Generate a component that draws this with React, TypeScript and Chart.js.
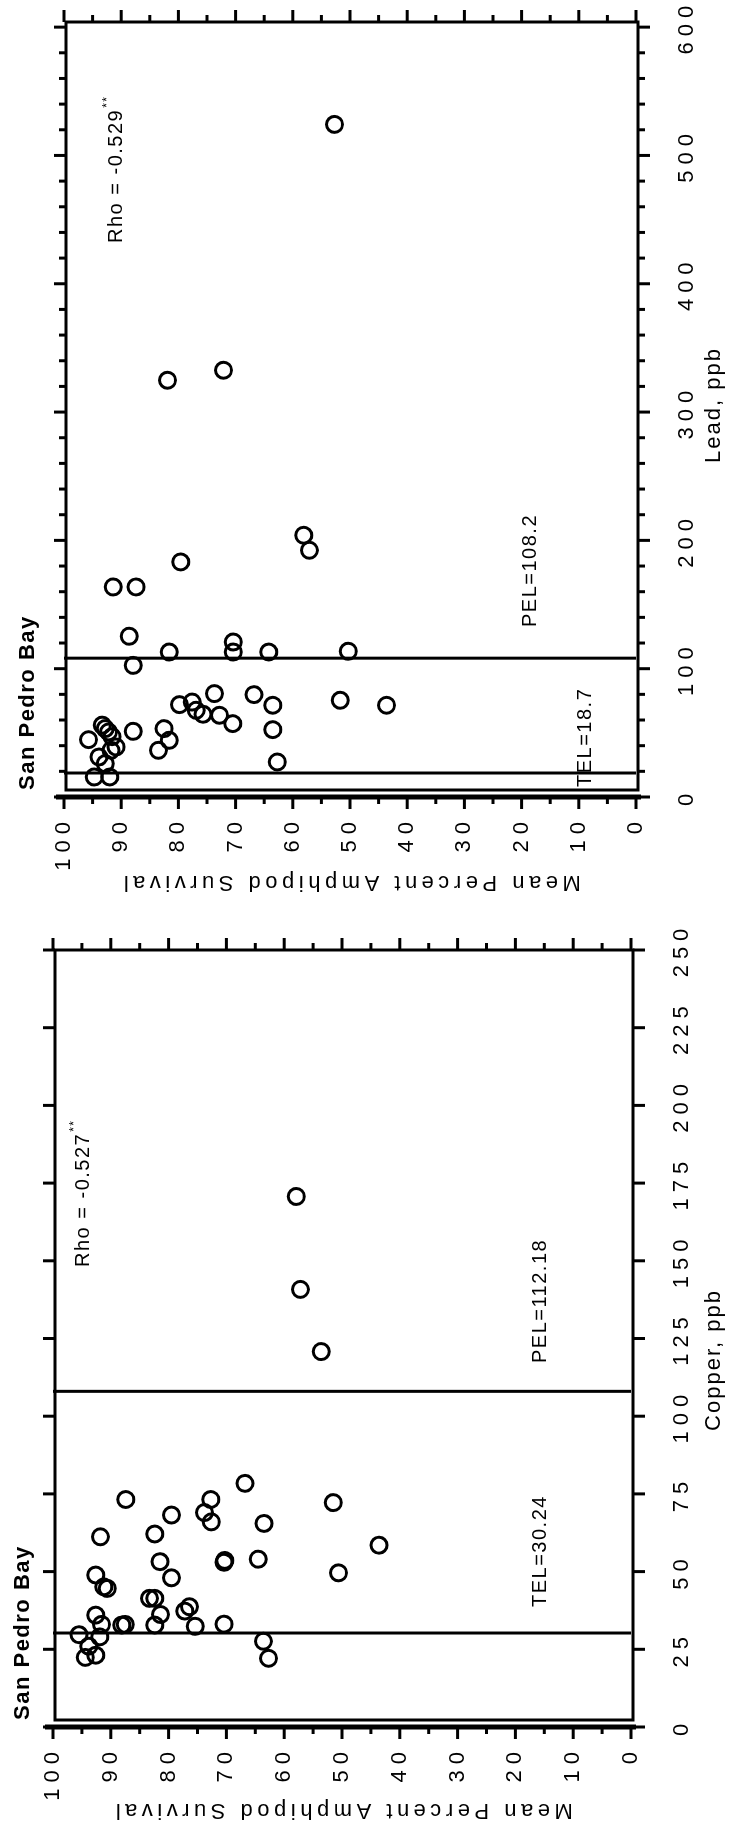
import React, { useEffect, useRef } from 'react';
import { Chart, registerables } from 'chart.js';

Chart.register(...registerables);

const FONT = '"Liberation Sans", Arial, Helvetica, sans-serif';

// ---- data ----
const survivalTicks = [0, 10, 20, 30, 40, 50, 60, 70, 80, 90, 100];
const survivalMinorTicks = [0, 5, 10, 15, 20, 25, 30, 35, 40, 45, 50, 55, 60, 65, 70, 75, 80, 85, 90, 95, 100];
const copperTicks = [0, 25, 50, 75, 100, 125, 150, 175, 200, 225, 250];
const leadTicks = [0, 100, 200, 300, 400, 500, 600];
const leadMinorTicks = [0, 20, 40, 60, 80, 100, 120, 140, 160, 180, 200, 220, 240, 260, 280, 300, 320, 340, 360, 380, 400, 420, 440, 460, 480, 500, 520, 540, 560, 580, 600];

const copperSurvival = [95.5, 94.4, 92.6, 93.8, 91.9, 91.6, 92.6, 92.6, 91.2, 90.6, 91.8, 88.1, 87.5, 87.4, 83.3, 82.4, 82.4, 81.4, 82.4, 81.5, 79.5, 79.5, 77.2, 76.4, 75.4, 73.8, 72.6, 72.7, 70.4, 70.3, 70.4, 66.8, 63.5, 64.5, 63.6, 62.7, 51.5, 50.6, 43.6, 53.6, 57.2, 57.9];
const copperPpb = [29.7, 22.4, 23.1, 26.0, 29.0, 33.0, 36.0, 48.9, 45.1, 44.6, 61.2, 32.8, 33.0, 73.2, 41.4, 41.4, 32.8, 36.2, 62.1, 53.2, 48.0, 68.2, 37.3, 38.7, 32.4, 69.0, 66.0, 73.2, 53.0, 53.6, 33.1, 78.4, 65.5, 54.0, 27.6, 22.1, 72.2, 49.6, 58.5, 120.8, 140.8, 170.7];

const leadSurvival = [94.7, 92.0, 95.7, 92.8, 92.2, 93.3, 91.6, 90.9, 93.9, 92.8, 91.8, 87.9, 82.5, 81.6, 83.5, 79.8, 77.6, 76.9, 75.7, 73.7, 72.8, 70.5, 66.8, 63.5, 63.5, 62.7, 87.9, 81.6, 70.4, 70.4, 64.2, 88.6, 91.4, 87.4, 79.6, 58.1, 57.1, 50.3, 51.7, 43.6, 81.9, 72.1, 52.7];
const leadPpb = [15.6, 15.6, 44.7, 53.3, 50.7, 56.0, 47.0, 39.0, 31.2, 26.0, 36.4, 51.2, 53.3, 44.2, 36.4, 72.0, 74.0, 67.6, 64.5, 80.6, 63.7, 57.2, 79.8, 71.5, 52.5, 27.3, 102.6, 113.0, 113.0, 120.8, 113.0, 125.3, 163.7, 163.7, 183.2, 204.0, 192.3, 113.6, 75.4, 71.5, 324.8, 332.6, 524.2];

const copperGuideValues = [30.24, 108.0];
const leadGuideValues = [18.7, 108.2];

// ---- layout (landscape coordinates, rotated onto the page) ----
const PAGE_W = 748;
const PAGE_H = 1833;

type PanelCfg = {
  left: number; width: number; padTop: number; padRight: number;
  yWidth: number; xHeight: number; xMax: number;
  xTicks: number[]; xMinor: number[]; xMajorEvery: number;
  survival: number[]; ppb: number[]; guides: number[];
  xTitle: string; xTitleX: number;
  yTitleX: number;
  rho: string; rhoX: number; rhoY: number;
  tel: string; telX: number; telY: number;
  pel: string; pelX: number; pelY: number;
  bayX: number; bayY: number;
};

const panels: PanelCfg[] = [
  {
    left: 0, width: 916, padTop: 53, padRight: 33, yWidth: 106, xHeight: 117, xMax: 250,
    xTicks: copperTicks, xMinor: copperTicks, xMajorEvery: 25,
    survival: copperSurvival, ppb: copperPpb, guides: copperGuideValues,
    xTitle: 'Copper, ppb', xTitleX: 473, yTitleX: 23,
    rho: 'Rho = -0.527', rhoX: 566, rhoY: 83,
    tel: 'TEL=30.24', telX: 226, telY: 540,
    pel: 'PEL=112.18', pelX: 470, pelY: 540,
    bayX: 113, bayY: 29,
  },
  {
    left: 916, width: 917, padTop: 64, padRight: 22, yWidth: 120, xHeight: 112, xMax: 604,
    xTicks: leadTicks, xMinor: leadMinorTicks, xMajorEvery: 100,
    survival: leadSurvival, ppb: leadPpb, guides: leadGuideValues,
    xTitle: 'Lead, ppb', xTitleX: 512, yTitleX: 35,
    rho: 'Rho = -0.529', rhoX: 674, rhoY: 116,
    tel: 'TEL=18.7', telX: 130, telY: 585,
    pel: 'PEL=108.2', pelX: 290, pelY: 530,
    bayX: 127, bayY: 34,
  },
];

function seg(ctx: CanvasRenderingContext2D, x1: number, y1: number, x2: number, y2: number) {
  ctx.beginPath();
  ctx.moveTo(x1, y1);
  ctx.lineTo(x2, y2);
  ctx.stroke();
}

const decorPlugin = {
  id: 'decor',
  beforeDraw(chart: any) {
    chart.ctx.letterSpacing = '6px';
  },
  beforeDatasetsDraw(chart: any) {
    chart.ctx.letterSpacing = '0px';
  },
  afterDraw(chart: any, _args: any, o: any) {
    const cfg: PanelCfg = o.cfg;
    const ctx: CanvasRenderingContext2D = chart.ctx;
    const { left, right, top, bottom } = chart.chartArea;
    const xs = chart.scales.x;
    const ys = chart.scales.y;
    ctx.save();
    ctx.strokeStyle = '#000';
    ctx.fillStyle = '#000';
    ctx.lineCap = 'butt';

    // frame
    ctx.lineWidth = 3;
    ctx.strokeRect(left + 7, top + 2, right - left - 7, bottom - top);
    // survival axis line (offset)
    ctx.lineWidth = 5;
    seg(ctx, left, top - 8, left, bottom + 5);

    // survival ticks, left and right
    ctx.lineWidth = 3;
    survivalMinorTicks.forEach((v) => {
      const py = ys.getPixelForValue(v);
      const major = v % 10 === 0;
      seg(ctx, left, py, left - (major ? 12 : 7), py);
      seg(ctx, right, py, right + (major ? 12 : 7), py);
    });
    // concentration ticks, top and bottom
    cfg.xMinor.forEach((v) => {
      const px = xs.getPixelForValue(v);
      const major = v % cfg.xMajorEvery === 0;
      seg(ctx, px, top + 2, px, top + 2 - (major ? 12 : 7));
      seg(ctx, px, bottom + 2, px, bottom + 2 + (major ? 12 : 7));
    });

    // axis titles
    ctx.letterSpacing = '4.5px';
    ctx.font = `22px ${FONT}`;
    ctx.textAlign = 'center';
    ctx.textBaseline = 'middle';
    ctx.save();
    ctx.translate(cfg.yTitleX, (top + bottom) / 2);
    ctx.rotate(-Math.PI / 2);
    ctx.fillText('Mean Percent Amphipod Survival', 0, 0);
    ctx.restore();
    ctx.letterSpacing = '2px';
    ctx.fillText(cfg.xTitle, cfg.xTitleX, 714);

    // San Pedro Bay
    ctx.letterSpacing = '1.5px';
    ctx.font = `bold 22px ${FONT}`;
    ctx.textAlign = 'left';
    ctx.textBaseline = 'alphabetic';
    ctx.fillText('San Pedro Bay', cfg.bayX, cfg.bayY);

    // Rho
    ctx.letterSpacing = '1.5px';
    ctx.font = `20px ${FONT}`;
    ctx.textBaseline = 'middle';
    ctx.fillText(cfg.rho, cfg.rhoX, cfg.rhoY);
    const w = ctx.measureText(cfg.rho).width;
    ctx.font = `12px ${FONT}`;
    ctx.fillText('**', cfg.rhoX + w + 1, cfg.rhoY - 8);

    // TEL / PEL
    ctx.font = `20px ${FONT}`;
    ctx.letterSpacing = '1.5px';
    ctx.fillText(cfg.tel, cfg.telX, cfg.telY);
    ctx.fillText(cfg.pel, cfg.pelX, cfg.pelY);
    ctx.restore();
  },
};

function Panel({ cfg }: { cfg: PanelCfg }) {
  const ref = useRef<HTMLCanvasElement>(null);
  useEffect(() => {
    const points = cfg.ppb.map((v, i) => ({ x: v, y: cfg.survival[i] }));
    const guideSets = cfg.guides.map((g) => ({
      type: 'scatter' as const,
      data: [{ x: g, y: 0 }, { x: g, y: 100 }],
      showLine: true,
      borderColor: '#000',
      borderWidth: 3,
      pointRadius: 0,
    }));
    const zeroPad = (s: any) => {
      s.paddingLeft = 0;
      s.paddingRight = 0;
      s.paddingTop = 0;
      s.paddingBottom = 0;
    };
    const chart = new Chart(ref.current as HTMLCanvasElement, {
      type: 'scatter',
      data: {
        datasets: [
          {
            data: points,
            pointStyle: 'circle',
            pointRadius: 8,
            borderWidth: 3,
            borderColor: '#000',
            backgroundColor: 'rgba(0,0,0,0)',
          } as any,
          ...guideSets,
        ],
      },
      options: {
        responsive: false,
        animation: false,
        events: [],
        layout: { padding: { top: cfg.padTop, right: cfg.padRight, left: 0, bottom: 0 } },
        plugins: {
          legend: { display: false },
          tooltip: { enabled: false },
          decor: { cfg },
        } as any,
        scales: {
          x: {
            type: 'linear',
            position: 'bottom',
            min: 0,
            max: cfg.xMax,
            grid: { display: false, drawTicks: false },
            border: { display: false },
            ticks: {
              font: { family: FONT, size: 22 },
              color: '#000',
              padding: 38,
              maxRotation: 0,
              autoSkip: false,
            },
            afterBuildTicks: (s: any) => {
              s.ticks = cfg.xTicks.map((v) => ({ value: v }));
            },
            afterFit: (s: any) => {
              s.height = cfg.xHeight;
              zeroPad(s);
            },
          },
          y: {
            type: 'linear',
            position: 'left',
            min: 0,
            max: 100,
            grid: { display: false, drawTicks: false },
            border: { display: false },
            ticks: {
              font: { family: FONT, size: 22 },
              color: '#000',
              padding: 19,
              autoSkip: false,
            },
            afterBuildTicks: (s: any) => {
              s.ticks = survivalTicks.map((v) => ({ value: v }));
            },
            afterFit: (s: any) => {
              s.width = cfg.yWidth;
              zeroPad(s);
            },
          },
        },
      } as any,
      plugins: [decorPlugin],
    });
    return () => chart.destroy();
  }, [cfg]);
  return (
    <canvas
      ref={ref}
      width={cfg.width}
      height={PAGE_W}
      style={{ position: 'absolute', left: cfg.left, top: 0, width: cfg.width, height: PAGE_W }}
    />
  );
}

export default function App() {
  return (
    <div
      style={{
        position: 'absolute',
        left: 0,
        top: 0,
        width: PAGE_W,
        height: PAGE_H,
        overflow: 'hidden',
        background: '#fff',
      }}
    >
      <div
        style={{
          position: 'absolute',
          left: 0,
          top: 0,
          width: PAGE_H,
          height: PAGE_W,
          transformOrigin: '0 0',
          transform: `translateY(${PAGE_H}px) rotate(-90deg)`,
        }}
      >
        {panels.map((p, i) => (
          <Panel key={i} cfg={p} />
        ))}
      </div>
    </div>
  );
}
